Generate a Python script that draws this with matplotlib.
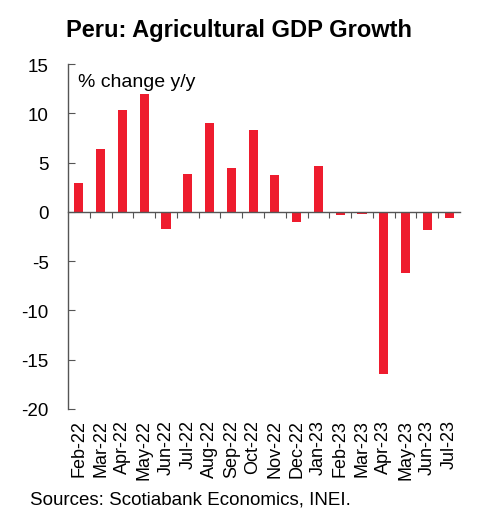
import numpy as np
import matplotlib.pyplot as plt

plt.rcParams['font.family'] = ['Liberation Sans', 'DejaVu Sans']
plt.rcParams['axes.unicode_minus'] = False

months = ['Feb-22', 'Mar-22', 'Apr-22', 'May-22', 'Jun-22', 'Jul-22',
          'Aug-22', 'Sep-22', 'Oct-22', 'Nov-22', 'Dec-22', 'Jan-23',
          'Feb-23', 'Mar-23', 'Apr-23', 'May-23', 'Jun-23', 'Jul-23']
growth = [2.9, 6.4, 10.3, 12.0, -1.7, 3.8,
          9.0, 4.5, 8.3, 3.7, -1.0, 4.7,
          -0.3, -0.25, -16.4, -6.2, -1.8, -0.6]

fig = plt.figure(figsize=(4.78, 5.10), dpi=100)
ax = fig.add_axes([68 / 478, 100 / 510, 392 / 478, 345 / 510])

x = np.arange(len(months))
ax.bar(x, growth, width=0.42, color='#EE1C2E', zorder=2)

ax.set_xlim(-0.5, len(months) - 0.5)
ax.set_ylim(-20, 15)
ax.set_yticks(range(-20, 16, 5))

# bottom spine sits on the zero line, ticks between bars
ax.spines['bottom'].set_position(('data', 0))
ax.spines['top'].set_visible(False)
ax.spines['right'].set_visible(False)
for s in ('left', 'bottom'):
    ax.spines[s].set_color('#555555')
    ax.spines[s].set_linewidth(1.0)
ax.set_xticks(x[:-1] + 0.5)
ax.set_xticklabels([])
ax.tick_params(axis='x', direction='out', length=4, color='#555555')
ax.tick_params(axis='y', direction='in', length=5, color='#555555',
               labelsize=13.5, pad=14)

# month labels hang below the plot area
for i, m in enumerate(months):
    ax.text(i, -21.0, m, rotation=90, ha='center', va='top', fontsize=13)

ax.text(10 / 392, 0.95, '% change y/y', transform=ax.transAxes,
        fontsize=14, ha='left', va='center')

fig.text(0.5, 0.94, 'Peru: Agricultural GDP Growth', ha='center',
         va='center', fontsize=17, fontweight='bold')
fig.text(30 / 478, 10 / 510, 'Sources: Scotiabank Economics, INEI.',
         ha='left', va='center', fontsize=13.5)

fig.savefig('out.png', dpi=100)
